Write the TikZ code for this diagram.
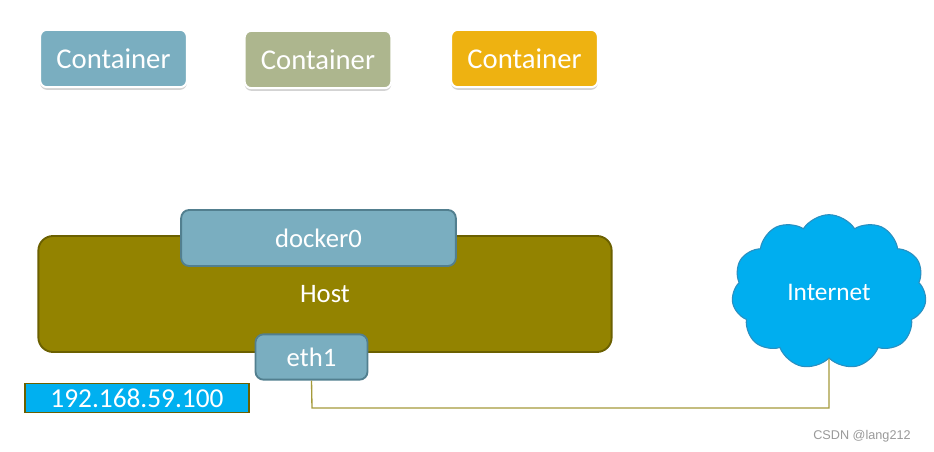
\documentclass[tikz,border=0pt]{standalone}
\usepackage{fontspec}
\setmainfont{Carlito}
\newfontfamily\wmfont{Liberation Sans}
\usetikzlibrary{shapes.symbols,shadows}
\definecolor{cblue}{HTML}{7AAEC0}
\definecolor{cgreen}{HTML}{ADB68E}
\definecolor{cyellow}{HTML}{EEB211}
\definecolor{hostc}{HTML}{938300}
\definecolor{hostb}{HTML}{6B6000}
\definecolor{ifb}{HTML}{527F8F}
\definecolor{netc}{HTML}{00AEEF}
\definecolor{netb}{HTML}{2A8FC0}
\definecolor{ipc}{HTML}{00B0F0}
\definecolor{linec}{HTML}{A59A3A}
\tikzset{
  contbox/.style={rounded corners=5pt, draw=white, line width=1.5pt, text=white,
    minimum width=110pt, minimum height=43pt, font=\fontsize{21.5}{24}\selectfont,
    drop shadow={shadow xshift=0pt, shadow yshift=-2pt, opacity=0.35}},
  ifbox/.style={rounded corners=6pt, draw=ifb, line width=1.4pt, fill=cblue, text=white,
    font=\fontsize{20}{24}\selectfont},
}
\begin{document}
\begin{tikzpicture}[x=0.75pt,y=-0.75pt]
\useasboundingbox (0,0) rectangle (934,451);
\node[contbox, fill=cblue] (c1) at (113.5,58.5) {Container};
\node[contbox, fill=cgreen] (c2) at (318,59.5) {Container};
\node[contbox, fill=cyellow] (c3) at (524.5,58.5) {Container};
\node[rounded corners=11pt, draw=hostb, line width=1.4pt, fill=hostc, text=white,
  minimum width=430pt, minimum height=87pt, font=\fontsize{20}{24}\selectfont] (host) at (325,294) {Host};
\node[ifbox, minimum width=206pt, minimum height=42pt] (d0) at (318.5,238) {docker0};
\node[ifbox, minimum width=84pt, minimum height=34pt] (eth) at (311.5,357) {eth1};
\node[draw=hostb, line width=1.2pt, fill=ipc, text=white, minimum width=168pt, minimum height=22pt,
  inner sep=0pt, font=\fontsize{20.5}{22}\selectfont] (ip) at (137,398) {192.168.59.100};
\node[cloud, cloud puffs=11, cloud puff arc=115, aspect=1.25, draw=netb, line width=0.8pt, fill=netc,
  text=white, minimum width=146pt, minimum height=116pt, font=\fontsize{19}{22}\selectfont] (net) at (829,292) {Internet};
\coordinate (b1) at (312,408);
\coordinate (b2) at (829,408);
\draw[linec, line width=1pt] (eth.south) -- (b1) -- (b2) -- (net.south);
\node[text=gray!80, font=\wmfont\fontsize{9.5}{11}\selectfont] (wm) at (862,436) {CSDN @lang212};
\end{tikzpicture}
\end{document}
